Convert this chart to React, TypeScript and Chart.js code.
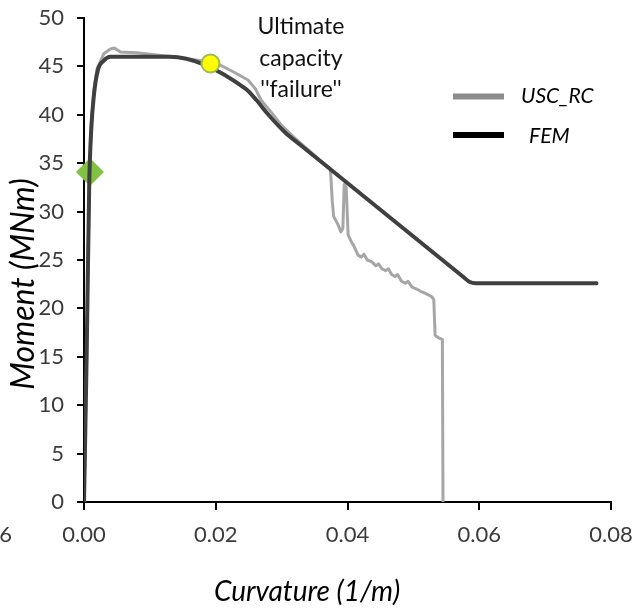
import React, { useEffect, useRef } from 'react';
import { Chart, registerables } from 'chart.js';

Chart.register(...registerables);

const FONT = 'Lato, "Open Sans", "DejaVu Sans", sans-serif';

// FEM curve (curvature 1/m, moment MNm)
const femCurvature = [0, 0.0004, 0.0008, 0.0011, 0.0015, 0.0021, 0.003, 0.004, 0.013, 0.0245, 0.0262, 0.028, 0.0305, 0.033, 0.0575, 0.0585, 0.0595, 0.0778];
const femMoment = [0, 15, 33, 38.5, 42, 44.6, 45.6, 46.0, 46.0, 42.7, 41.5, 40.0, 38.2, 36.8, 23.3, 22.75, 22.6, 22.6];

// USC_RC curve
const uscCurvature = [0, 0.0004, 0.0008, 0.0011, 0.0015, 0.002, 0.003, 0.004, 0.0046, 0.0055, 0.008, 0.012, 0.0147, 0.0175, 0.0205, 0.0225, 0.0249, 0.026, 0.0269, 0.0285, 0.03, 0.032, 0.034, 0.036, 0.0374, 0.0377, 0.0379, 0.0386, 0.039, 0.0393, 0.0395, 0.0398, 0.0401, 0.0405, 0.041, 0.0416, 0.0421, 0.0425, 0.043, 0.0437, 0.0443, 0.0447, 0.0452, 0.0458, 0.0462, 0.0467, 0.0472, 0.0476, 0.0482, 0.0488, 0.0492, 0.0498, 0.0505, 0.0513, 0.052, 0.0528, 0.0531, 0.0533, 0.054, 0.0544, 0.0545];
const uscMoment = [0, 15, 33, 39, 42.5, 44.8, 46.3, 46.8, 46.9, 46.5, 46.4, 46.1, 45.9, 45.6, 45.2, 44.5, 43.6, 42.7, 41.5, 40.2, 38.9, 37.6, 36.4, 35.2, 34.4, 31, 29.5, 28.6, 27.9, 28.3, 32.8, 32.5, 27.6, 27.0, 26.4, 25.5, 25.3, 25.6, 25.0, 24.8, 24.4, 24.6, 24.1, 23.9, 24.1, 23.5, 23.3, 23.5, 22.8, 22.6, 22.8, 22.2, 22.0, 21.7, 21.5, 21.2, 20.9, 17.2, 16.9, 16.8, 0];

// markers
const ultimatePoint = { x: 0.0192, y: 45.3 };
const yieldPoint = { x: 0.0009, y: 34.1 };

const xMin = 0;
const xMax = 0.08;
const xStep = 0.02;
const yMin = 0;
const yMax = 50;
const yStep = 5;

const seriesNames = ['USC_RC', 'FEM'];
const annotationLines = ['Ultimate', 'capacity', "''failure''"];
const xTitle = 'Curvature (1/m)';
const yTitle = 'Moment (MNm)';
const clippedTickLabel = '-0.06';

const toPoints = (xs: number[], ys: number[]) => xs.map((x, i) => ({ x, y: ys[i] }));

const clearPadding = (s: any) => {
  s.paddingTop = 0;
  s.paddingBottom = 0;
  s.paddingLeft = 0;
  s.paddingRight = 0;
};

const overlayPlugin = {
  id: 'overlayTexts',
  afterDraw(chart: any) {
    const ctx = chart.ctx as CanvasRenderingContext2D;
    ctx.save();
    ctx.fillStyle = '#111';
    ctx.textAlign = 'center';
    ctx.textBaseline = 'alphabetic';
    ctx.font = `23px ${FONT}`;
    annotationLines.forEach((t, i) => ctx.fillText(t, 301, 34 + i * 31.5));

    // legend
    ctx.lineCap = 'butt';
    ctx.lineWidth = 6;
    ctx.strokeStyle = '#8c8c8c';
    ctx.beginPath();
    ctx.moveTo(453, 96.5);
    ctx.lineTo(504, 96.5);
    ctx.stroke();
    ctx.strokeStyle = '#000';
    ctx.beginPath();
    ctx.moveTo(453, 135);
    ctx.lineTo(504, 135);
    ctx.stroke();
    ctx.textAlign = 'left';
    ctx.fillStyle = '#000';
    ctx.font = `italic 21px ${FONT}`;
    ctx.fillText(seriesNames[0], 521, 103);
    ctx.fillText(seriesNames[1], 529, 143);

    // clipped tick label at the left edge
    ctx.fillStyle = '#3b3b3b';
    ctx.font = `22px ${FONT}`;
    ctx.textAlign = 'right';
    ctx.fillText(clippedTickLabel, 12, 542);

    // axis titles
    ctx.fillStyle = '#000';
    ctx.textAlign = 'center';
    ctx.font = `italic 28px ${FONT}`;
    ctx.fillText(xTitle, 307, 601);
    ctx.translate(34, 284);
    ctx.rotate(-Math.PI / 2);
    ctx.font = `italic 32px ${FONT}`;
    ctx.fillText(yTitle, 0, 0);
    ctx.restore();
  },
};

export default function App() {
  const ref = useRef<HTMLCanvasElement>(null);

  useEffect(() => {
    if (!ref.current) return;
    const chart = new Chart(ref.current, {
      type: 'scatter',
      data: {
        datasets: [
          {
            label: 'ultimate',
            data: [ultimatePoint],
            pointStyle: 'circle',
            pointRadius: 9,
            pointBackgroundColor: '#ffff00',
            pointBorderColor: '#9bbb59',
            pointBorderWidth: 2,
            showLine: false,
            order: 0,
            clip: false,
          } as any,
          {
            label: seriesNames[1],
            data: toPoints(femCurvature, femMoment),
            showLine: true,
            borderColor: '#404040',
            borderWidth: 4,
            pointRadius: 0,
            cubicInterpolationMode: 'monotone',
            borderJoinStyle: 'round',
            borderCapStyle: 'round',
            order: 1,
          } as any,
          {
            label: 'yield',
            data: [yieldPoint],
            pointStyle: 'rectRot',
            pointRadius: 14,
            pointBackgroundColor: '#80c342',
            pointBorderColor: '#80c342',
            pointBorderWidth: 0,
            showLine: false,
            order: 1.5,
            clip: false,
          } as any,
          {
            label: seriesNames[0],
            data: toPoints(uscCurvature, uscMoment),
            showLine: true,
            borderColor: '#a6a6a6',
            borderWidth: 3,
            pointRadius: 0,
            tension: 0,
            borderJoinStyle: 'round',
            order: 2,
          } as any,
        ],
      },
      options: {
        animation: false,
        responsive: false,
        devicePixelRatio: 1,
        layout: { padding: { top: 18, right: 32, left: 0, bottom: 0 } },
        plugins: {
          legend: { display: false },
          tooltip: { enabled: false },
        },
        scales: {
          x: {
            type: 'linear',
            min: xMin,
            max: xMax,
            ticks: {
              stepSize: xStep,
              color: '#3b3b3b',
              font: { family: FONT, size: 22 },
              padding: 12,
              maxRotation: 0,
              callback: (v: any) => Number(v).toFixed(2),
            },
            grid: {
              drawOnChartArea: false,
              drawTicks: true,
              tickLength: 8,
              color: '#000',
              lineWidth: 2,
            },
            border: { display: true, color: '#000', width: 2 },
            afterFit: (s: any) => {
              s.height = 107;
              clearPadding(s);
            },
          },
          y: {
            type: 'linear',
            min: yMin,
            max: yMax,
            ticks: {
              stepSize: yStep,
              color: '#3b3b3b',
              font: { family: FONT, size: 22 },
              padding: 13,
            },
            grid: {
              drawOnChartArea: false,
              drawTicks: true,
              tickLength: 7,
              color: '#000',
              lineWidth: 2,
            },
            border: { display: true, color: '#000', width: 2 },
            afterFit: (s: any) => {
              s.width = 84;
              clearPadding(s);
            },
          },
        },
      } as any,
      plugins: [overlayPlugin],
    });
    return () => chart.destroy();
  }, []);

  return (
    <div style={{ position: 'fixed', left: 0, top: 0, width: 643, height: 609, background: '#fff' }}>
      <canvas ref={ref} width={643} height={609} style={{ width: 643, height: 609, display: 'block' }} />
    </div>
  );
}
